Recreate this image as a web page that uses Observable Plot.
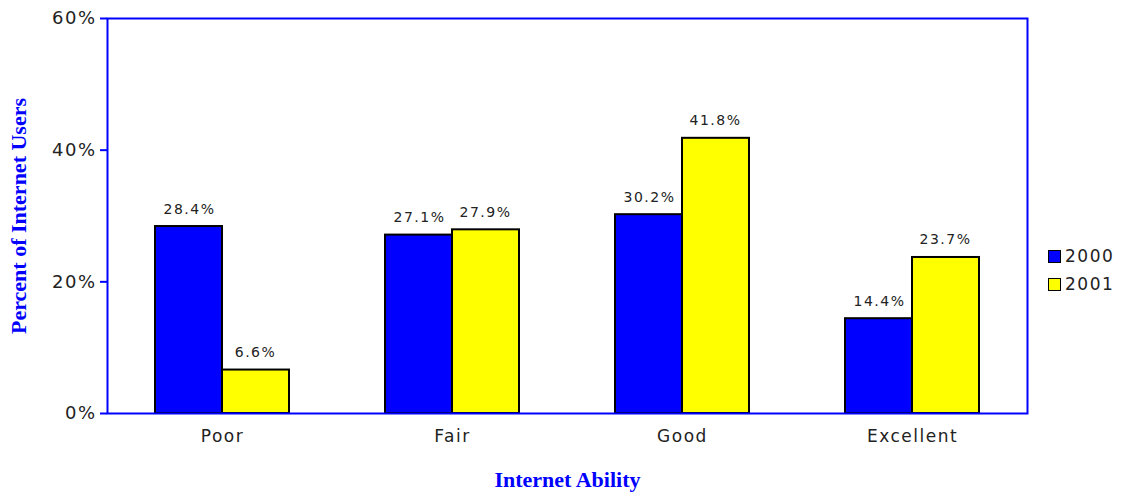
<!DOCTYPE html>
<html>
<head>
<meta charset="utf-8">
<script src="https://cdn.jsdelivr.net/npm/d3@7"></script>
<script src="https://cdn.jsdelivr.net/npm/@observablehq/plot@0.6"></script>
<style>
  html, body { margin: 0; padding: 0; background: #fff; }
  #wrap { position: relative; width: 1122px; height: 493px; }
  #wrap svg { letter-spacing: 1.5px; }
  g[aria-label="y-axis label"] text, g[aria-label="x-axis label"] text,
  g[aria-label="y-axis label"], g[aria-label="x-axis label"] {
    font-family: "Liberation Serif", "Times New Roman", serif;
    font-weight: bold; font-size: 22px; fill: #0000ff; letter-spacing: 0;
  }
  #legend { position: absolute; left: 1048px; top: 242px; font-family: "DejaVu Sans", sans-serif;
    font-size: 17px; color: #222; letter-spacing: 1.5px; }
  #legend .row { display: flex; align-items: center; height: 28px; }
  #legend .sw { width: 11px; height: 11px; border: 1px solid #000; margin-right: 4px; box-sizing: content-box; }
</style>
</head>
<body>
<div id="wrap"></div>
<script>
const categories = ["Poor", "Fair", "Good", "Excellent"];
const years = ["2000", "2001"];
const values2000 = [28.4, 27.1, 30.2, 14.4];
const values2001 = [6.6, 27.9, 41.8, 23.7];
const yTicks = [0, 20, 40, 60];
const colors = {"2000": "#0000ff", "2001": "#ffff00"};

const d2000 = categories.map((c, i) => ({cat: c, year: "2000", v: values2000[i]}));
const d2001 = categories.map((c, i) => ({cat: c, year: "2001", v: values2001[i]}));
const fmt = d => d.v.toFixed(1) + "%";

const chart = Plot.plot({
  width: 1122,
  height: 493,
  marginLeft: 107,
  marginRight: 95,
  marginTop: 18,
  marginBottom: 80,
  style: {fontFamily: "DejaVu Sans, sans-serif", fontSize: "17px", color: "#222", background: "#fff"},
  x: {domain: categories, padding: 0},
  y: {domain: [0, 60]},
  marks: [
    Plot.barY(d2000, {x: "cat", y: "v", fill: colors["2000"], stroke: "#000", strokeWidth: 2, insetLeft: 48, insetRight: 115}),
    Plot.barY(d2001, {x: "cat", y: "v", fill: colors["2001"], stroke: "#000", strokeWidth: 2, insetLeft: 115, insetRight: 48}),
    Plot.text(d2000, {x: "cat", y: "v", text: fmt, dx: -33, dy: -13, lineAnchor: "bottom", fontSize: 14, fill: "#222"}),
    Plot.text(d2001, {x: "cat", y: "v", text: fmt, dx: 33, dy: -13, lineAnchor: "bottom", fontSize: 14, fill: "#222"}),
    Plot.frame({stroke: "#0000ff", strokeWidth: 2}),
    Plot.axisY({ticks: yTicks, tickFormat: d => d + "%", tickSize: 7, tickPadding: 4, stroke: "#0000ff", strokeWidth: 2, fill: "#222", fontSize: 18,
      label: "Percent of Internet Users", labelAnchor: "center", labelArrow: "none", labelOffset: 97}),
    Plot.axisX({tickSize: 0, tickPadding: 16, fill: "#222",
      label: "Internet Ability", labelAnchor: "center", labelArrow: "none", labelOffset: 73})
  ]
});
document.getElementById("wrap").appendChild(chart);

const legend = document.createElement("div");
legend.id = "legend";
years.forEach(y => {
  const row = document.createElement("div");
  row.className = "row";
  const sw = document.createElement("span");
  sw.className = "sw";
  sw.style.background = colors[y];
  const t = document.createElement("span");
  t.textContent = y;
  row.appendChild(sw); row.appendChild(t);
  legend.appendChild(row);
});
document.getElementById("wrap").appendChild(legend);
</script>
</body>
</html>
